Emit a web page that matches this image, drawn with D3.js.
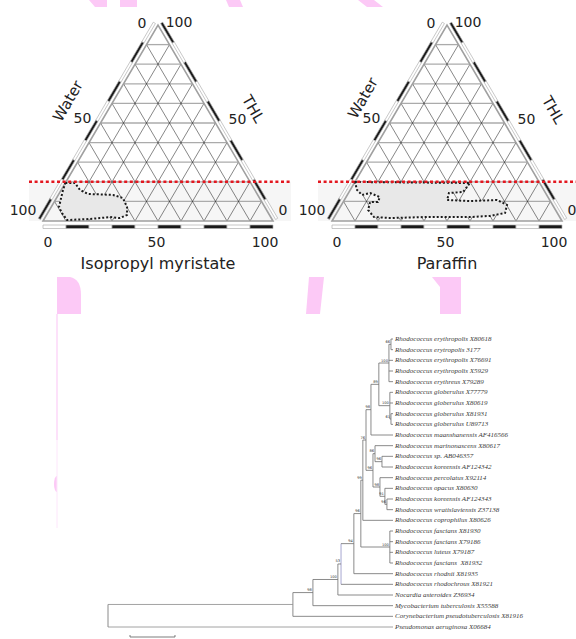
<!DOCTYPE html>
<html><head><meta charset="utf-8">
<script src="https://cdn.jsdelivr.net/npm/d3@7"></script>
<style>body{margin:0;background:#fff}svg{display:block}</style>
</head><body><svg id="c" width="576" height="639"></svg>
<script>
// ---------------- DATA ----------------
// Ternary panels
const panelTitles = ["Isopropyl myristate", "Paraffin"];
const gridSteps = [0,10,20,30,40,50,60,70,80,90,100];
const axisTicks = [0, 50, 100];
const axisNames = ["Water", "THL"];
const thresholdTHL = 20;
// region outlines as [solvent %, THL %]
const regionIPM = [[0,19.4],[4.2,19.4],[8.2,15.8],[12.7,13.8],[23.8,13.3],[28.9,11.7],[33,7.1],[35,3.1],[32.7,1.5],[28.1,2.0],[19.9,1.0],[10.2,0.5],[6.2,4.1],[3.4,7.1],[2.0,11.7],[0.8,15.8]];
const regionParaffin = [[0,19.9],[50.3,19.4],[49.6,14.8],[43.7,14.3],[44.7,10.7],[54.9,10.2],[66.4,10.7],[72.0,8.2],[73.2,4.1],[67.4,2.6],[59,2.0],[49,2.0],[38.6,2.0],[24.5,1.5],[17.3,2.0],[12.9,5.6],[11.7,9.7],[15.1,9.7],[14.7,12.2],[9.4,14.3],[6.4,13.3],[3.0,15.8]];

// Phylogenetic tree
const leafNames = [
 "Rhodococcus erythropolis X80618","Rhodococcus erytropolis 3177","Rhodococcus erythropolis X76691",
 "Rhodococcus erythropolis X5929","Rhodococcus erythreus X79289","Rhodococcus globerulus X77779",
 "Rhodococcus globerulus X80619","Rhodococcus globerulus X81931","Rhodococcus globerulus U89713",
 "Rhodococcus maanshanensis AF416566","Rhodococcus marinonascens X80617","Rhodococcus sp. AB046357",
 "Rhodococcus koreensis AF124342","Rhodococcus percolatus X92114","Rhodococcus opacus X80630",
 "Rhodococcus koreensis AF124343","Rhodococcus wratislaviensis Z37138","Rhodococcus coprophilus X80626",
 "Rhodococcus fascians X81930","Rhodococcus fascians X79186","Rhodococcus luteus X79187",
 "Rhodococcus fascians  X81932","Rhodococcus rhodnii X81935","Rhodococcus rhodochrous X81921",
 "Nocardia asteroides Z36934","Mycobacterium tuberculosis X55588",
 "Corynebacterium pseudotuberculosis X81916","Pseudomonas aeruginosa X06684"];
const leafParents = ["nE12","nE12","nE","nE","nE","nG","nG","nG89","nG89","n19","nMar","nSpK","nSpK","nP","nOK","nKW","nKW","n21","nFas","nFas","nFas","nFas","n23","n24","n25","n26","n27","root"];
const nodeIds      = ["root","n27","n26","n25","n24","n23","n22","n21","n20","n19","nB","nE","nE12","nG","nG89","nKor","nMar","nSpK","nP","nOK","nKW","nFas"];
const nodeParents  = ["","root","n27","n26","n25","n24","n23","n22","n21","n20","n19","nB","nE","nB","nG","n20","nKor","nMar","nKor","nP","nOK","n22"];
const nodeDepths   = [0,0.0822,0.0911,0.1022,0.1036,0.1093,0.1124,0.1133,0.1147,0.1169,0.1204,0.1249,0.1258,0.1253,0.1258,0.1178,0.1187,0.1218,0.1209,0.1231,0.1240,0.1253];
const nodeBootstrap= [null,null,98,100,53,94,96,99,76,98,89,100,66,100,61,96,86,96,98,91,96,100];
const leafDepth = 0.1267;
const scaleBarLength = 0.02;

// ---------------- DRAW ----------------
const svg = d3.select("#c");
const FONT = "'DejaVu Sans', Verdana, sans-serif";
const PINK = "#fcc9f6";

// decorative pink overlay shapes (background artefacts of the figure)
const pinkShapes = [
 "M89,0L107,0L107,7L95,7Z","M120,0L137,0L137,7L120,7Z","M226,0L240,0L243,7L229,7Z","M358,0L374,0L383,7L367,7Z",
 "M57,314L57,277L70,277Q81,279 81,295L81,314Z","M309,277L324,277L320,314L306,314Z","M432,277L461,277L461,314L440,314L440,287Z",
 "M57,476A3,8 0 0,0 57,492Z"];
svg.append("g").selectAll("path").data(pinkShapes).join("path").attr("d", d=>d).attr("fill", PINK);
svg.append("line").attr("x1",57).attr("x2",57).attr("y1",314).attr("y2",440).attr("stroke",PINK).attr("stroke-width",1.1);
svg.append("line").attr("x1",57).attr("x2",57).attr("y1",440).attr("y2",528).attr("stroke","#fde6fb").attr("stroke-width",1);

const triW = 230, yBase = 221, yApex = 25;
const layout = [
  {x0:43, region: regionIPM, waterX:-90, waterY:101, thlX:95, thlY:109},
  {x0:332, region: regionParaffin, waterX:-84, waterY:98, thlX:106, thlY:110}
];

layout.forEach((L, pi) => {
  const g = svg.append("g");
  const ox = L.x0, ax = ox + triW/2;
  const xS = d3.scaleLinear().domain([0,100]).range([ox, ox+triW]);
  const yS = d3.scaleLinear().domain([0,100]).range([yBase, yApex]);
  const P = (I,T) => [xS(I + T/2), yS(T)];
  const line = d3.line();

  // light band below threshold
  g.append("rect").attr("x", ox-14).attr("width", 262)
    .attr("y", yS(thresholdTHL)).attr("height", yS(0)-yS(thresholdTHL)).attr("fill","#f6f6f6");

  const inner = gridSteps.filter(k => k>0 && k<100);
  g.selectAll(".h").data(inner).join("path")
    .attr("d", k => line([P(0,k), P(100-k,k)])).attr("stroke","#ababab").attr("stroke-width",1.3).attr("fill","none");
  g.selectAll(".s").data(inner).join("path")
    .attr("d", k => line([P(k,0), P(k,100-k)])).attr("stroke","#222").attr("stroke-width",0.55).attr("fill","none");
  g.selectAll(".w").data(inner).join("path")
    .attr("d", k => line([P(100-k,0), P(0,100-k)])).attr("stroke","#222").attr("stroke-width",0.55).attr("fill","none");
  g.append("path").attr("d", line([P(0,0),P(100,0),P(0,100)])+"Z")
    .attr("fill","none").attr("stroke","#a0a0a0").attr("stroke-width",1.6);

  // edge bars with alternating decade segments
  const decades = d3.range(0,100,10);
  const A0 = P(0,0), A1 = P(0,100), B0 = P(100,0);
  const len = Math.hypot(A1[0]-A0[0], A1[1]-A0[1]);
  const edges = [
    {pt: v => P(v,0), n:[0,1], d1:4, d2:7.5},
    {pt: v => P(0,100-v), n:[(A1[1]-A0[1])/len, -(A1[0]-A0[0])/len], d1:3, d2:5.5},
    {pt: v => P(100-v,v), n:[-(A1[1]-B0[1])/len, (A1[0]-B0[0])/len], d1:3, d2:5.5}
  ];
  edges.forEach(e => {
    g.selectAll(null).data(decades).join("path")
      .attr("d", v => {
        const a = e.pt(v), b = e.pt(v+10);
        return line([[a[0]+e.n[0]*e.d1, a[1]+e.n[1]*e.d1],[b[0]+e.n[0]*e.d1, b[1]+e.n[1]*e.d1],
                     [b[0]+e.n[0]*e.d2, b[1]+e.n[1]*e.d2],[a[0]+e.n[0]*e.d2, a[1]+e.n[1]*e.d2]])+"Z";
      })
      .attr("fill", v => (v/10)%2===1 ? "#1a1a1a" : "#fff")
      .attr("stroke","#b0b0b0").attr("stroke-width",0.7);
  });

  // region of interest
  g.append("path").attr("d", line(L.region.map(p => P(p[0], p[1])))+"Z")
    .attr("fill","#e8e8e8").attr("stroke","#1a1a1a").attr("stroke-width",2)
    .attr("stroke-dasharray","2,2");

  // threshold red dotted line
  g.append("line").attr("x1", ox-14).attr("x2", ox+247)
    .attr("y1", yS(thresholdTHL)).attr("y2", yS(thresholdTHL))
    .attr("stroke","#e3171f").attr("stroke-width",2.6).attr("stroke-dasharray","3,2.6");

  const txt = (x,y,s,size) => g.append("text").attr("x",x).attr("y",y).text(s)
     .attr("font-family",FONT).attr("font-size",size||14).attr("fill","#222")
     .attr("text-anchor","middle").attr("dominant-baseline","central");
  const xt = d3.scaleLinear().domain([0,100]).range([ox+5, ox+222]);
  axisTicks.forEach(v => txt(xt(v), 242, String(v)));
  const leftOff = [[-16,-2],[-18,-5],[-20,-11]];
  axisTicks.forEach((v,i) => { const p = P(0,100-v); txt(p[0]+leftOff[i][0], p[1]+leftOff[i][1], String(v)); });
  const rightOff = [[10,-11],[22,-4],[21,-3]];
  axisTicks.forEach((v,i) => { const p = P(100-v,v); txt(p[0]+rightOff[i][0], p[1]+rightOff[i][1], String(v)); });
  txt(ax+L.waterX, L.waterY, axisNames[0], 15).attr("transform", `rotate(-60,${ax+L.waterX},${L.waterY})`);
  txt(ax+L.thlX, L.thlY, axisNames[1], 15).attr("transform", `rotate(60,${ax+L.thlX},${L.thlY})`);
  txt(ax, 263, panelTitles[pi], 16);
});

// ---------------- TREE ----------------
const rows = nodeIds.map((id,i) => ({id, parentId: nodeParents[i] || null, depthV: nodeDepths[i], boot: nodeBootstrap[i]}))
  .concat(leafNames.map((name,i) => ({id: "L"+i, parentId: leafParents[i], depthV: leafDepth, leaf: i, name})));
const root = d3.stratify().id(d=>d.id).parentId(d=>d.parentId)(rows);
root.eachAfter(n => { n.minLeaf = n.data.leaf !== undefined ? n.data.leaf : d3.min(n.children, c => c.minLeaf); });
root.sort((a,b) => a.minLeaf - b.minLeaf);

const xT = d3.scaleLinear().domain([0, leafDepth]).range([108, 393]);
const yT = d3.scalePoint().domain(d3.range(leafNames.length)).range([339, 627]);
root.eachAfter(n => {
  n.px = xT(n.data.depthV);
  n.py = n.children ? (n.children[0].py + n.children[n.children.length-1].py)/2 : yT(n.data.leaf);
});

const tg = svg.append("g").attr("stroke","#6d6d6d").attr("stroke-width",0.8).attr("fill","none");
const internal = root.descendants().filter(n => n.children);
tg.selectAll(".v").data(internal).join("line")
  .attr("x1", n=>n.px).attr("x2", n=>n.px)
  .attr("y1", n=>n.children[0].py).attr("y2", n=>n.children[n.children.length-1].py)
  .attr("stroke", n => n.id==="n24" ? "#8f8fc4" : "#6d6d6d");
tg.selectAll(".hz").data(root.descendants().filter(n=>n.parent)).join("line")
  .attr("x1", n=>n.parent.px).attr("x2", n=>n.px).attr("y1", n=>n.py).attr("y2", n=>n.py)
  .attr("stroke", n => n.parent.id==="root" ? "#8a8a8a" : "#6d6d6d");

svg.append("g").selectAll("text").data(internal.filter(n => n.data.boot != null)).join("text")
  .attr("x", n=>n.px-1).attr("y", n=>n.py-1.5).attr("text-anchor","end")
  .attr("font-family", FONT).attr("font-size", 3.6).attr("fill","#333").text(n=>n.data.boot);

svg.append("g").selectAll("text").data(root.leaves()).join("text")
  .attr("x", 395).attr("y", n=>n.py).attr("dominant-baseline","central")
  .attr("font-family","'Liberation Serif','Times New Roman',serif").attr("font-style","italic")
  .attr("font-size",7).attr("fill","#3a3a3a").attr("xml:space","preserve").text(n=>n.data.name);

const sbX = 130, sbY = 637;
const sbW = xT(scaleBarLength) - xT(0);
svg.append("path").attr("d", `M${sbX},${sbY-2}V${sbY}H${sbX+sbW}V${sbY-2}`)
  .attr("fill","none").attr("stroke","#6d6d6d").attr("stroke-width",0.9);
</script></body></html>
